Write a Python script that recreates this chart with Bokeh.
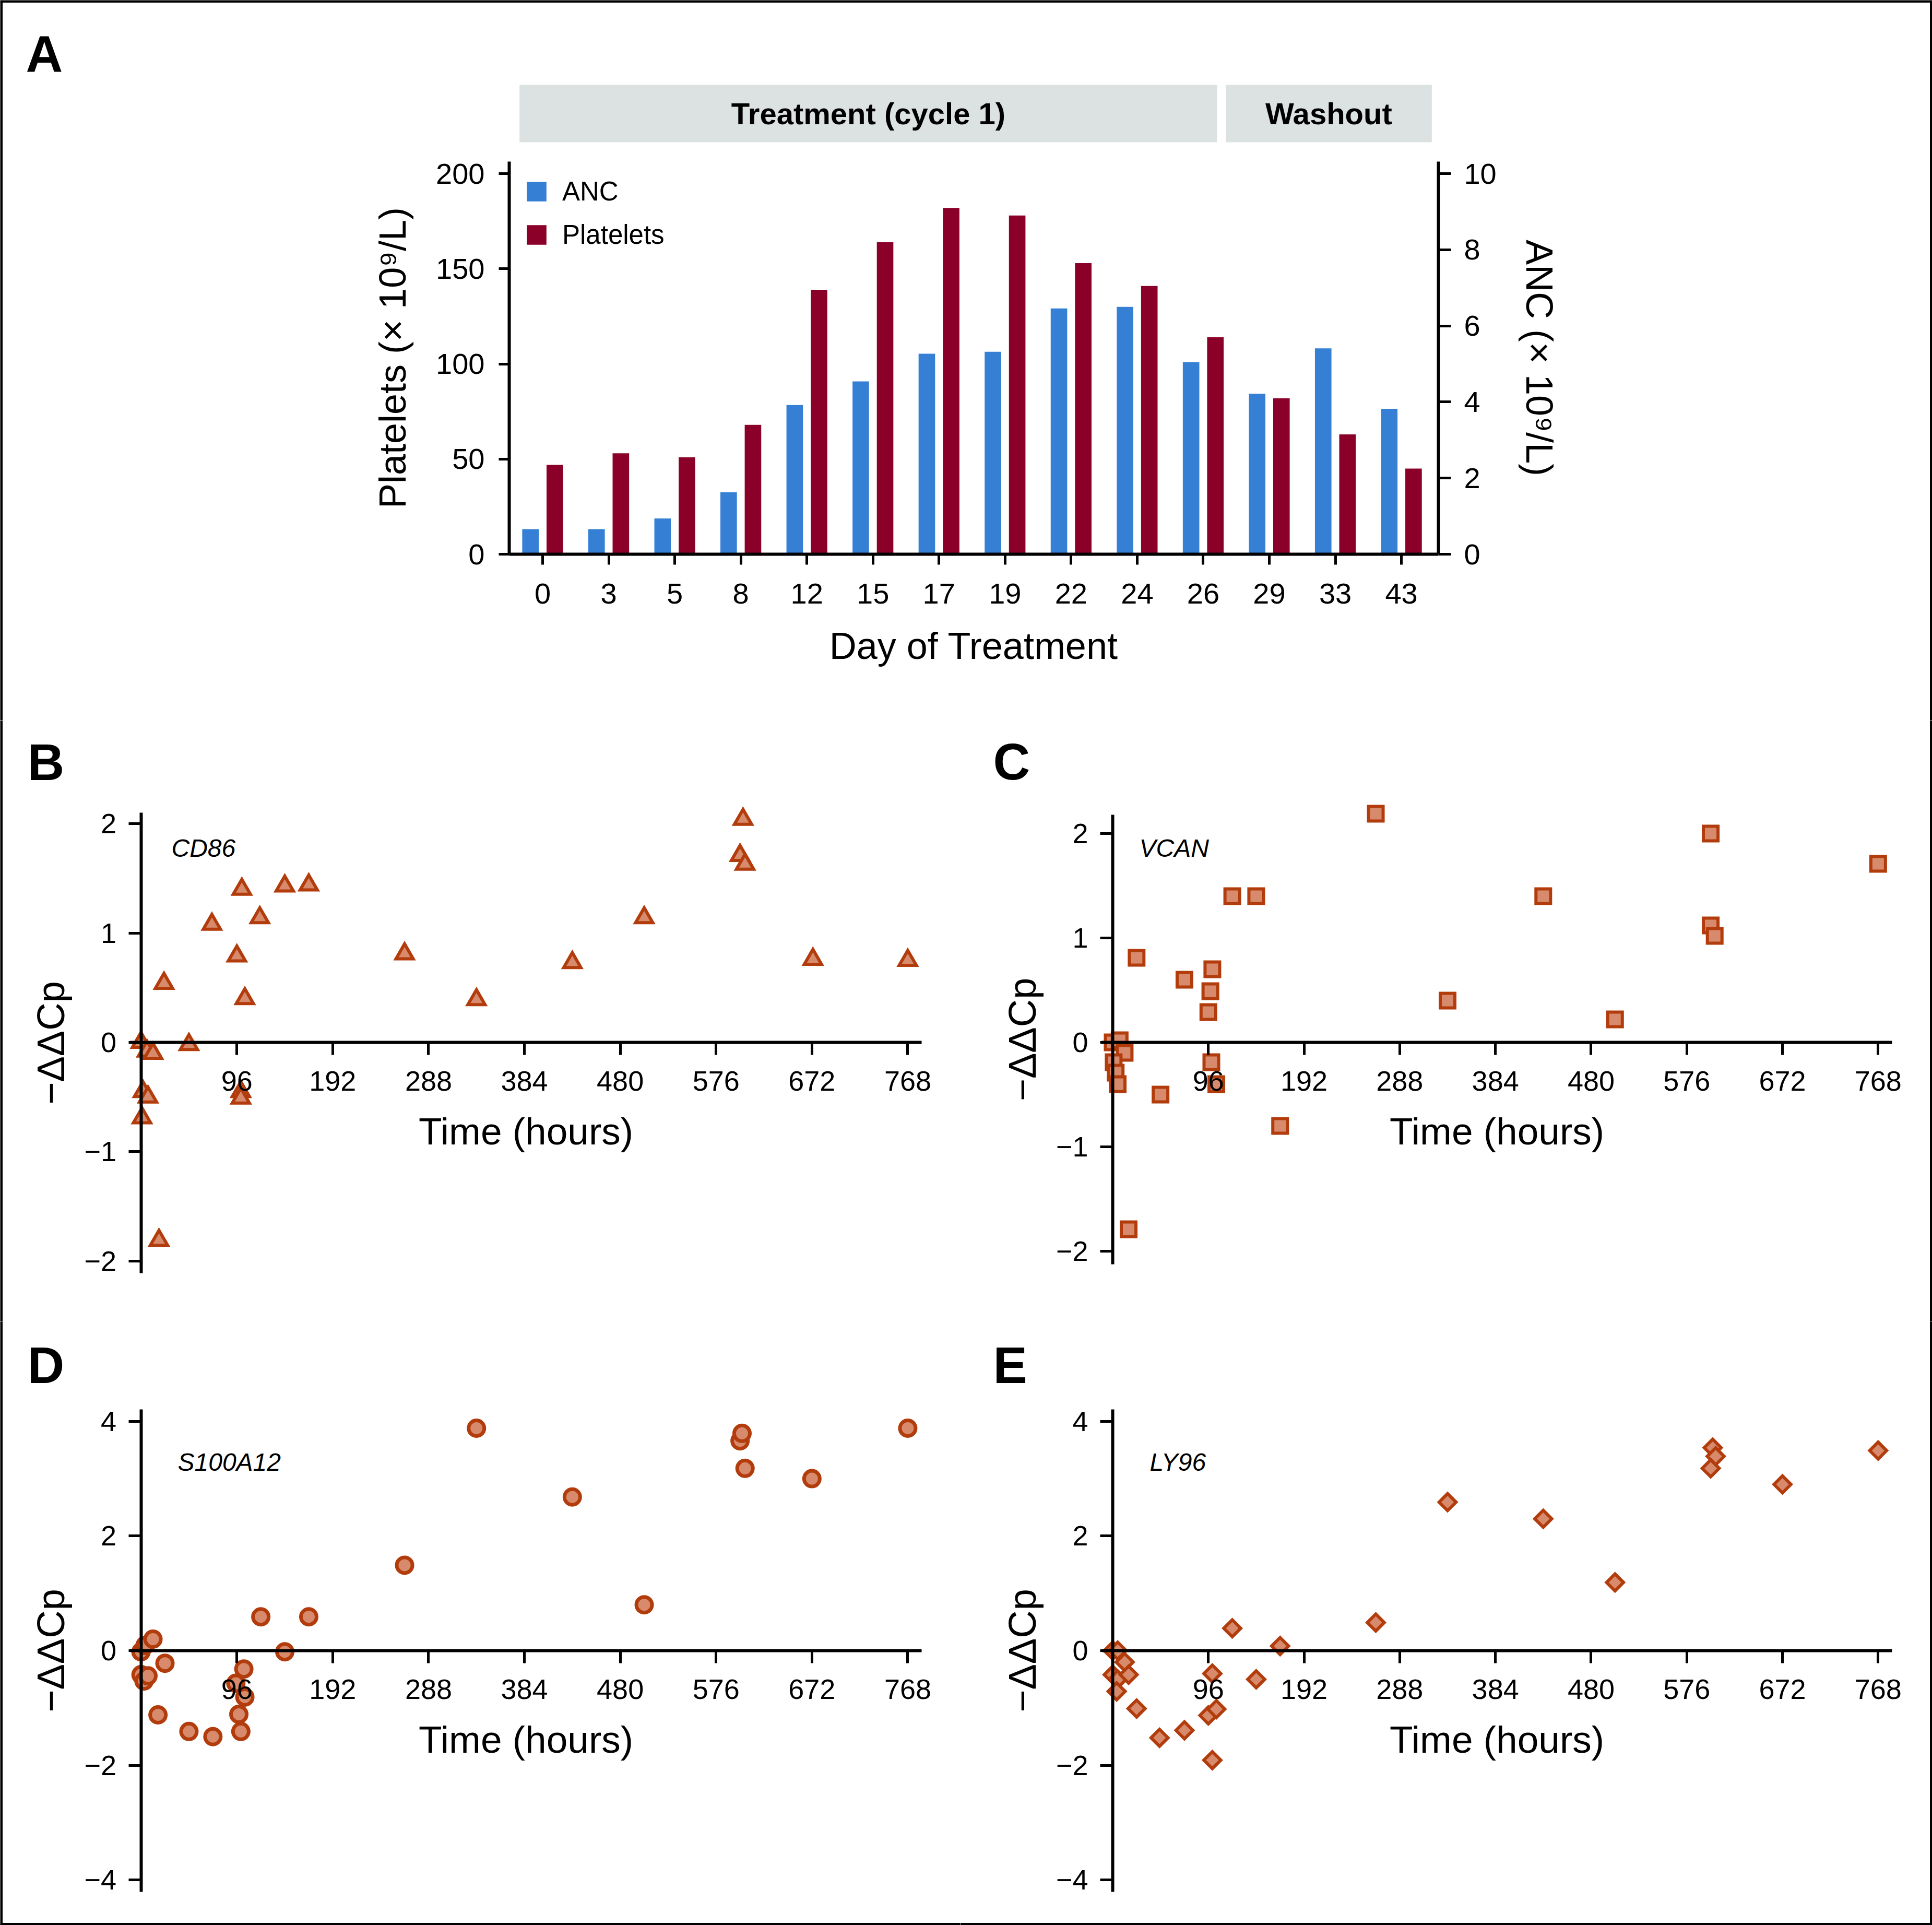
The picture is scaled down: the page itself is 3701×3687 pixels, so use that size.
from bokeh.plotting import figure
from bokeh.models import (Range1d, LinearAxis, FixedTicker, Legend, LegendItem,
                          Label, ColumnDataSource, Span)
from bokeh.transform import dodge
from bokeh.layouts import column, row
from bokeh.embed import file_html
from bokeh.resources import INLINE
from bokeh.core.properties import value

FONT = "Liberation Sans"

# ---------------- data: panel A ----------------
days = ["0", "3", "5", "8", "12", "15", "17", "19", "22", "24", "26", "29", "33", "43"]
platelets = [47, 53, 51, 68, 139, 164, 182, 178, 153, 141, 114, 82, 63, 45]
anc = [0.66, 0.66, 0.94, 1.63, 3.92, 4.54, 5.27, 5.32, 6.46, 6.50, 5.05, 4.22, 5.41, 3.82]
phases = ["Treatment (cycle 1)", "Washout"]
platelet_ticks = [0, 50, 100, 150, 200]
anc_ticks = [0, 2, 4, 6, 8, 10]

# ---------------- data: panels B-E (hours, -ddCp) ----------------
time_ticks = [96, 192, 288, 384, 480, 576, 672, 768]

cd86_hours = [0, 6, 12, 2, 7, 1, 18, 23, 48, 71, 96, 101, 100, 100, 104, 119, 144, 168,
              264, 336, 432, 504, 603, 600, 605, 673, 768]
cd86_vals = [0.0, -0.08, -0.10, -0.45, -0.50, -0.69, -1.81, 0.54, -0.02, 1.08, 0.79, 1.40,
             -0.45, -0.51, 0.40, 1.14, 1.43, 1.44, 0.81, 0.39, 0.73, 1.14, 2.04, 1.71, 1.63,
             0.76, 0.75]

vcan_hours = [0, 7, 12, 1, 3, 5, 16, 24, 48, 72, 96, 98, 100, 99, 104, 120, 144, 168,
              264, 336, 432, 504, 600, 600, 604, 768]
vcan_vals = [0.0, 0.02, -0.10, -0.19, -0.29, -0.40, -1.79, 0.81, -0.50, 0.60, 0.29, 0.49,
             0.70, -0.19, -0.40, 1.40, 1.40, -0.80, 2.19, 0.40, 1.40, 0.22, 2.00, 1.12,
             1.02, 1.71]

s100a12_hours = [0, 4, 12, 0, 3, 7, 24, 17, 48, 72, 95, 103, 104, 98, 100, 120, 144, 168,
                 264, 336, 432, 504, 600, 602, 605, 672, 768]
s100a12_vals = [-0.02, 0.09, 0.20, -0.42, -0.53, -0.44, -0.22, -1.12, -1.41, -1.50, -0.57,
                -0.32, -0.81, -1.11, -1.41, 0.59, -0.02, 0.59, 1.49, 3.88, 2.68, 0.80, 3.66,
                3.79, 3.18, 3.00, 3.88]

ly96_hours = [0, 5, 0, 5, 4, 12, 16, 24, 47, 72, 96, 100, 104, 100, 120, 144, 168, 264,
              336, 432, 504, 602, 605, 600, 672, 768]
ly96_vals = [0.0, 0.0, -0.42, -0.50, -0.71, -0.20, -0.42, -1.01, -1.52, -1.39, -1.13, -0.40,
             -1.02, -1.91, 0.39, -0.50, 0.08, 0.49, 2.59, 2.30, 1.19, 3.54, 3.39, 3.18, 2.90,
             3.49]

BLUE = "#3580D4"
RED = "#8B0029"
HDR = "#DCE1E1"
EDGE = "#B23C0C"
FILL = "#D88B6C"


def style_axis(ax, tick_px, label_px, tick_out, lstand, astand, lw=6):
    ax.axis_line_width = lw
    ax.axis_line_color = "black"
    ax.major_tick_line_width = 5
    ax.major_tick_line_color = "black"
    ax.major_tick_in = 0
    ax.major_tick_out = tick_out
    ax.minor_tick_line_color = None
    ax.major_label_text_font = FONT
    ax.major_label_text_font_size = f"{tick_px}px"
    ax.major_label_text_color = "black"
    ax.axis_label_text_font = FONT
    ax.axis_label_text_font_size = f"{label_px}px"
    ax.axis_label_text_font_style = "normal"
    ax.axis_label_text_color = "black"
    ax.major_label_standoff = lstand
    ax.axis_label_standoff = astand


def letter(p, txt, x, y):
    p.add_layout(Label(x=x, y=y, x_units="screen", y_units="screen", text=txt,
                       text_font=FONT, text_font_size="98px", text_font_style="bold",
                       text_color="black", text_baseline="alphabetic"))


def bare_figure(W, H, xr, yr):
    p = figure(width=W, height=H, x_range=Range1d(*xr), y_range=Range1d(*yr),
               min_border=0, min_border_left=0, min_border_right=0, min_border_top=0,
               min_border_bottom=0, toolbar_location=None, output_backend="svg", title=None)
    p.xgrid.grid_line_color = None
    p.ygrid.grid_line_color = None
    p.outline_line_color = None
    return p


def frame_edges(p, xr, yr, sides):
    # outer black border of the whole figure, drawn on the edges of each panel
    spec = {"left": (xr[0], "height"), "right": (xr[1], "height"),
            "top": (yr[1], "width"), "bottom": (yr[0], "width")}
    for s in sides:
        loc, dim = spec[s]
        p.add_layout(Span(location=loc, dimension=dim, line_color="black", line_width=9))


# ---------------- panel A ----------------
idx = list(range(len(days)))
src = ColumnDataSource(dict(idx=idx, days=days, platelets=platelets, anc=anc))

X_LO, X_HI = -0.506, 13.56          # drawn extent of the category axis
XR_A, YR_A = (-8.2105, 21.036), (-87.54, 291.16)
pA = bare_figure(3701, 1380, XR_A, YR_A)
pA.extra_y_ranges = {"anc": Range1d(YR_A[0] / 20, YR_A[1] / 20)}

# header boxes for study phases
first_idx = [days.index("0"), days.index("29")]
last_idx = [days.index("26"), days.index("43")]
hdr_left = [first_idx[0] - 0.35, first_idx[1] - 0.66]
hdr_right = [last_idx[0] + 0.21, last_idx[1] + 0.46]
hsrc = ColumnDataSource(dict(left=hdr_left, right=hdr_right,
                             mid=[(a + b) / 2 for a, b in zip(hdr_left, hdr_right)],
                             name=phases))
pA.quad(left="left", right="right", bottom=216.5, top=246.7, source=hsrc,
        fill_color=HDR, line_color=None)
pA.text(x="mid", y=231.6, text="name", source=hsrc, text_align="center",
        text_baseline="middle", text_font=value(FONT), text_font_size="58px",
        text_font_style="bold", text_color="black")

r_anc = pA.vbar(x=dodge("idx", -0.184), top="anc", width=0.25, source=src,
                y_range_name="anc", fill_color=BLUE, line_color=None)
r_plt = pA.vbar(x=dodge("idx", 0.184), top="platelets", width=0.25, source=src,
                fill_color=RED, line_color=None)

xa = pA.xaxis[0]
xa.fixed_location = 0
xa.bounds = (X_LO, X_HI)
xa.ticker = FixedTicker(ticks=idx)
xa.major_label_overrides = {i: d for i, d in enumerate(days)}
xa.axis_label = "Day of Treatment"
style_axis(xa, 56, 72, 20, 36, 38)

ya = pA.yaxis[0]
ya.fixed_location = X_LO
ya.ticker = FixedTicker(ticks=platelet_ticks)
ya.bounds = (0, 206.4)
ya.axis_label = "Platelets (× 10⁹/L)"
style_axis(ya, 56, 72, 20, 27, 40)

ra = LinearAxis(y_range_name="anc", ticker=FixedTicker(ticks=anc_ticks), bounds=(0, 10.32),
                axis_label="ANC (× 10⁹/L)", fixed_location=X_HI)
style_axis(ra, 56, 72, 24, 25, 39)
pA.add_layout(ra, "right")

legend = Legend(items=[LegendItem(label="ANC", renderers=[r_anc]),
                       LegendItem(label="Platelets", renderers=[r_plt])],
                location=(1004, 901), glyph_width=47, glyph_height=47, label_height=47,
                label_standoff=26, spacing=24, padding=0, margin=0,
                border_line_color=None, background_fill_alpha=0,
                label_text_font=FONT, label_text_font_size="51px", label_text_color="black")
pA.add_layout(legend)
letter(pA, "A", 49, 1278)
frame_edges(pA, XR_A, YR_A, ["left", "right", "top"])


# ---------------- panels B-E ----------------
def gene_panel(W, H, xr, yr, ybounds, yticks, hours, vals, marker, size, lw, angle,
               gene, gx, gy, let, lx, ly, sides):
    p = bare_figure(W, H, xr, yr)
    p.scatter(x=hours, y=vals, marker=marker, size=size, angle=angle, fill_color=FILL,
              line_color=EDGE, line_width=lw, line_join="miter")
    xa = p.xaxis[0]
    xa.fixed_location = 0
    xa.bounds = (-11, 782)
    xa.ticker = FixedTicker(ticks=time_ticks)
    xa.axis_label = "Time (hours)"
    style_axis(xa, 54, 73, 24, 31, 34)
    ya = p.yaxis[0]
    ya.fixed_location = 0
    ya.bounds = ybounds
    ya.ticker = FixedTicker(ticks=yticks)
    ya.major_label_overrides = {t: ("−" + str(-t) if t < 0 else str(t)) for t in yticks}
    ya.axis_label = "−ΔΔCp"
    style_axis(ya, 54, 74, 24, 23, 20)
    p.add_layout(Label(x=gx, y=gy, x_units="screen", y_units="screen", text=gene,
                       text_font=FONT, text_font_size="48px", text_font_style="italic",
                       text_color="black", text_baseline="alphabetic"))
    letter(p, let, lx, ly)
    frame_edges(p, xr, yr, sides)
    return p


XR_L = (-140.97, 821.1)
XR_R = (-152.4, 822.3)
pB = gene_panel(1840, 1150, XR_L, (-2.5501, 2.9417), (-2.111, 2.101), [-2, -1, 0, 1, 2],
                cd86_hours, cd86_vals, "triangle", 33, 6, 0, "CD86", 328, 906, "B", 52, 1071,
                ["left"])
pC = gene_panel(1861, 1150, XR_R, (-2.67, 3.08), (-2.125, 2.18), [-2, -1, 0, 1, 2],
                vcan_hours, vcan_vals, "square", 28, 6, 0, "VCAN", 342, 906, "C", 62, 1072,
                ["right"])
pD = gene_panel(1840, 1157, XR_L, (-4.7905, 5.7468), (-4.208, 4.208), [-4, -2, 0, 2, 4],
                s100a12_hours, s100a12_vals, "circle", 30, 7, 0, "S100A12", 340, 887,
                "D", 52, 1073, ["left", "bottom"])
pE = gene_panel(1861, 1157, XR_R, (-4.7905, 5.7468), (-4.208, 4.208), [-4, -2, 0, 2, 4],
                ly96_hours, ly96_vals, "square", 23, 6, 0.7854, "LY96", 362, 887,
                "E", 62, 1073, ["right", "bottom"])

root = column(pA, row(pB, pC), row(pD, pE))

open("out.html", "w").write(file_html(root, INLINE))
